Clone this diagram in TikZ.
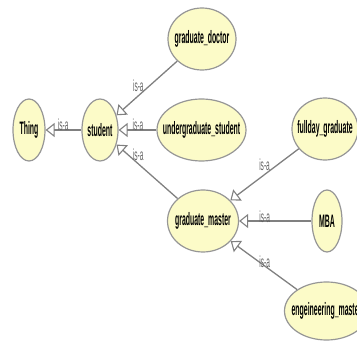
\documentclass[tikz,border=0pt]{standalone}
\usepackage{fontspec}
\setmainfont{Liberation Sans}
\usepackage{graphicx}
\usetikzlibrary{arrows.meta,shapes.geometric}
\definecolor{classfill}{RGB}{252,251,200}
\definecolor{classline}{RGB}{150,150,150}
\definecolor{edgeline}{RGB}{128,128,128}
\definecolor{edgetext}{RGB}{100,100,100}
% condensed text, centred on a zero-width box so it never widens a node
\newcommand\narrow[1]{\makebox[0pt]{\scalebox{0.41}[1]{#1}}}
\newcommand\narrowbf[1]{\makebox[0pt]{\scalebox{0.385}[1]{\bfseries #1}}}

\begin{document}
\begin{tikzpicture}[x=1pt,y=-1pt,
  cls/.style={ellipse, draw=classline, line width=1.2pt, fill=classfill,
    inner sep=0pt, font=\fontsize{18}{18}\selectfont},
  isa/.style={draw=edgeline, line width=1.3pt,
    -{Triangle[open,length=9pt,width=14pt,line width=1.1pt]}},
  lab/.style={font=\fontsize{16}{16}\selectfont, text=edgetext, inner sep=0pt}]
\useasboundingbox (0,0) rectangle (357,342);
\clip (0,0) rectangle (357,342);

% classes
\node[cls, minimum width=32pt, minimum height=62pt] (thing)   at (29,130)  {\narrowbf{Thing}};
\node[cls, minimum width=36pt, minimum height=62pt] (student) at (100,130) {\narrowbf{student}};
\node[cls, minimum width=68pt, minimum height=62pt] (gdoc)    at (202,39)  {\narrowbf{graduate\_doctor}};
\node[cls, minimum width=89pt, minimum height=62pt] (ugrad)   at (201.5,130) {\narrowbf{undergraduate\_student}};
\node[cls, minimum width=71pt, minimum height=62pt] (gmaster) at (203,221) {\narrowbf{graduate\_master}};
\node[cls, minimum width=66pt, minimum height=62pt] (fullday) at (325,129) {\narrowbf{fullday\_graduate}};
\node[cls, minimum width=30pt, minimum height=62pt] (mba)     at (327,221) {\narrowbf{MBA}};
\node[cls, minimum width=84pt, minimum height=58pt] (eng)     at (326.5,311) {\narrowbf{engeineering\_master}};

% is-a relations
\draw[isa] (student) -- node[lab, pos=0.51, yshift=5pt]   {\narrow{is-a}} (thing);
\draw[isa] (gdoc)    -- node[lab, pos=0.64, yshift=10pt]  {\narrow{is-a}} (student);
\draw[isa] (ugrad)   -- node[lab, pos=0.49, yshift=5pt]   {\narrow{is-a}} (student);
\draw[isa] (gmaster) -- node[lab, pos=0.646, yshift=9pt]  {\narrow{is-a}} (student);
\draw[isa] (fullday) -- node[lab, pos=0.50, yshift=9.5pt] {\narrow{is-a}} (gmaster);
\draw[isa] (mba)     -- node[lab, pos=0.646, yshift=4pt]  {\narrow{is-a}} (gmaster);
\draw[isa] (eng)     -- node[lab, pos=0.488, yshift=4pt]  {\narrow{is-a}} (gmaster);
\end{tikzpicture}
\end{document}
